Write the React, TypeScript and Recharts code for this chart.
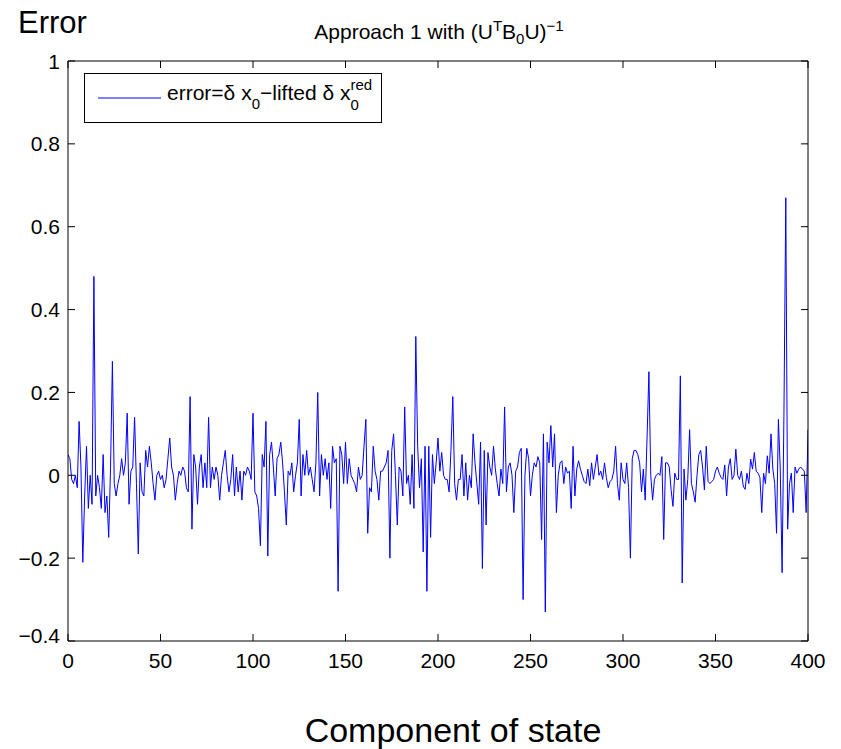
import { LineChart, Line, XAxis, YAxis, Legend } from "recharts";

// error = δx0 − lifted δx0^red, one value per state component (0..400)
const errorValues = [
  0.05, 0.04, -0.01, -0.02, 0.0, -0.03, 0.13, 0.02, -0.21, -0.05,
  0.07, -0.08, 0.0, -0.07, 0.48, -0.05, 0.0, -0.03, -0.08, 0.05,
  -0.09, -0.05, -0.15, 0.02, 0.275, -0.02, -0.05, -0.02, 0.0, 0.04,
  0.0, 0.03, 0.15, -0.07, 0.01, 0.02, 0.14, -0.02, -0.19, 0.03,
  -0.04, -0.05, 0.06, 0.02, 0.07, 0.03, -0.02, -0.06, 0.0, 0.01,
  -0.01, 0.0, -0.03, -0.01, 0.04, 0.09, 0.02, 0.0, -0.06, -0.02,
  0.01, 0.0, 0.02, 0.01, -0.03, -0.04, 0.19, -0.13, 0.05, 0.02,
  -0.07, 0.02, 0.05, -0.03, 0.03, -0.03, 0.14, -0.03, 0.02, -0.01,
  0.02, 0.0, -0.06, 0.0, 0.03, 0.06, 0.0, -0.04, -0.01, 0.05,
  -0.05, 0.02, -0.04, 0.01, -0.06, 0.01, 0.0, 0.02, 0.01, -0.01,
  0.15, -0.04, -0.05, -0.08, -0.17, 0.05, 0.02, 0.13, -0.195, 0.05,
  0.08, 0.02, -0.05, 0.04, 0.05, 0.08, 0.03, -0.04, -0.12, 0.01,
  0.0, 0.03, -0.04, 0.0, 0.03, 0.135, -0.05, 0.05, 0.0, 0.06,
  0.0, 0.02, -0.01, -0.04, 0.03, 0.2, -0.05, 0.05, 0.0, 0.04,
  -0.01, 0.03, -0.08, 0.07, 0.03, 0.04, -0.28, 0.07, 0.05, -0.02,
  0.08, -0.02, 0.04, 0.0, -0.01, -0.02, -0.04, 0.02, -0.01, 0.0,
  0.07, 0.135, -0.14, -0.03, -0.04, 0.07, 0.01, -0.01, -0.06, 0.01,
  0.01, 0.02, 0.03, 0.06, -0.2, 0.06, 0.1, 0.0, -0.12, 0.02,
  0.01, -0.05, 0.165, -0.02, 0.0, -0.07, 0.05, -0.08, 0.335, 0.07,
  -0.03, 0.04, -0.185, 0.07, -0.28, 0.07, -0.15, 0.05, -0.02, 0.03,
  0.09, 0.01, 0.055, 0.0, -0.01, -0.01, -0.04, 0.06, 0.19, -0.02,
  -0.06, -0.01, -0.01, 0.05, -0.05, 0.03, -0.06, 0.0, -0.03, 0.1,
  0.03, -0.02, -0.07, 0.08, -0.225, 0.06, -0.12, 0.055, 0.02, 0.0,
  0.07, 0.015, -0.02, -0.05, 0.015, -0.02, 0.165, -0.04, 0.02, 0.03,
  0.0, -0.09, 0.01, 0.02, 0.055, 0.065, -0.3, 0.0, 0.065, 0.04,
  -0.05, 0.0, 0.03, 0.02, 0.045, 0.03, -0.155, 0.1, -0.33, 0.08,
  0.03, 0.12, 0.02, 0.1, -0.09, 0.0, 0.03, 0.035, -0.02, 0.02,
  0.005, 0.01, -0.08, 0.07, -0.05, 0.015, 0.035, 0.015, 0.0, -0.015,
  -0.02, 0.015, -0.025, 0.03, -0.01, 0.02, 0.05, 0.0, 0.01, -0.01,
  0.03, -0.005, -0.03, -0.015, -0.01, 0.01, 0.07, -0.02, -0.06, 0.03,
  -0.01, -0.02, 0.03, -0.03, -0.2, 0.04, 0.06, 0.06, 0.05, 0.03,
  -0.04, 0.015, -0.06, 0.09, 0.25, 0.0, -0.06, -0.01, 0.0, 0.005,
  0.0, 0.045, -0.155, 0.03, 0.03, 0.02, -0.035, -0.075, 0.005, -0.01,
  -0.01, 0.24, -0.26, 0.015, -0.06, -0.01, 0.11, -0.02, -0.04, -0.065,
  0.0, 0.05, 0.06, 0.02, -0.035, 0.07, -0.015, -0.02, -0.015, -0.01,
  0.01, 0.02, 0.005, -0.005, -0.01, 0.025, -0.05, 0.02, 0.04, -0.01,
  0.0, 0.063, 0.0, -0.01, 0.01, -0.026, -0.034, 0.005, -0.02, 0.039,
  0.015, 0.055, 0.01, 0.005, -0.005, -0.09, 0.005, -0.02, 0.047, 0.005,
  0.1, 0.015, -0.02, -0.14, 0.135, 0.015, -0.235, 0.15, 0.67, -0.13,
  -0.02, 0.005, -0.09, 0.02, 0.005, 0.015, 0.02, 0.015, 0.01, -0.09,
  0.11,
];

const xTicks = [0, 50, 100, 150, 200, 250, 300, 350, 400];
const yTicks = [-0.4, -0.2, 0, 0.2, 0.4, 0.6, 0.8, 1];

const data = errorValues.map((error, component) => ({ component, error }));

const W = 841;
const H = 749;
const FONT = '"Liberation Sans", Arial, Helvetica, sans-serif';
const TICK_LEN = 7;
const TICK_FONT = 21;

const fmtY = (v: number) => (v < 0 ? "\u2212" + String(Math.abs(v)) : String(v));

// matlab style: ticks point inward, labels outside
const BottomTick = ({ x, y, payload }: any) => (
  <g>
    <line x1={x} y1={y} x2={x} y2={y - TICK_LEN} stroke="#000" />
    <text x={x} y={y + 27} textAnchor="middle" fontSize={TICK_FONT} fontFamily={FONT} fill="#000">
      {payload.value}
    </text>
  </g>
);

const LeftTick = ({ x, y, payload }: any) => (
  <g>
    <line x1={x} y1={y} x2={x + TICK_LEN} y2={y} stroke="#000" />
    <text
      x={x - 8}
      y={payload.value === -0.4 ? y + 2 : y + 7.5}
      textAnchor="end"
      fontSize={TICK_FONT}
      fontFamily={FONT}
      fill="#000"
    >
      {fmtY(payload.value)}
    </text>
  </g>
);

const TopTick = ({ x, y }: any) => <line x1={x} y1={y} x2={x} y2={y + TICK_LEN} stroke="#000" />;
const RightTick = ({ x, y }: any) => <line x1={x} y1={y} x2={x - TICK_LEN} y2={y} stroke="#000" />;

const LegendBox = () => (
  <div
    style={{
      width: 296,
      height: 48,
      border: "1px solid #000",
      background: "#fff",
      position: "relative",
      fontFamily: FONT,
      fontSize: 21,
      color: "#000",
    }}
  >
    <svg width={66} height={4} style={{ position: "absolute", left: 13, top: 22 }}>
      <line x1={0} y1={2} x2={63} y2={2} stroke="#0000ff" strokeWidth={1} />
    </svg>
    <div style={{ position: "absolute", left: 82, top: 3, whiteSpace: "nowrap", lineHeight: 1 }}>
      error=δ x<span style={{ fontSize: 15, verticalAlign: -9 }}>0</span>−lifted δ x
      <span
        style={{
          display: "inline-flex",
          flexDirection: "column",
          fontSize: 15,
          lineHeight: "15px",
          verticalAlign: 10,
        }}
      >
        <span>red</span>
        <span style={{ marginTop: 5 }}>0</span>
      </span>
    </div>
  </div>
);

export default function App() {
  return (
    <div style={{ position: "absolute", left: 0, top: 0, width: W, height: H, background: "#fff", fontFamily: FONT }}>
      <div style={{ position: "absolute", left: 18, top: 7, fontSize: 31, lineHeight: 1, color: "#000" }}>Error</div>
      <div
        style={{
          position: "absolute",
          left: 0,
          width: 878,
          top: 18,
          textAlign: "center",
          fontSize: 21,
          lineHeight: 1,
          color: "#000",
          whiteSpace: "nowrap",
        }}
      >
        Approach 1 with (U<sup style={{ fontSize: 15 }}>T</sup>B<sub style={{ fontSize: 15 }}>0</sub>U)
        <sup style={{ fontSize: 15 }}>−1</sup>
      </div>
      <div
        style={{
          position: "absolute",
          left: 0,
          width: 906,
          top: 713,
          textAlign: "center",
          fontSize: 34,
          lineHeight: 1,
          color: "#000",
        }}
      >
        Component of state
      </div>

      <LineChart width={W} height={H} data={data} margin={{ top: 60, left: 67, right: 32, bottom: 107 }}>
        <XAxis
          dataKey="component"
          type="number"
          domain={[0, 400]}
          ticks={xTicks}
          height={1}
          tickSize={0}
          tickMargin={0}
          tickLine={false}
          tick={<BottomTick />}
          axisLine={{ stroke: "#000" }}
          allowDataOverflow
        />
        <XAxis
          xAxisId="top"
          orientation="top"
          dataKey="component"
          type="number"
          domain={[0, 400]}
          ticks={xTicks}
          height={1}
          tickSize={0}
          tickMargin={0}
          tickLine={false}
          tick={<TopTick />}
          axisLine={{ stroke: "#000" }}
          allowDataOverflow
        />
        <YAxis
          type="number"
          domain={[-0.4, 1]}
          ticks={yTicks}
          width={1}
          tickSize={0}
          tickMargin={0}
          tickLine={false}
          tick={<LeftTick />}
          axisLine={{ stroke: "#000" }}
          allowDataOverflow
        />
        <YAxis
          yAxisId="right"
          orientation="right"
          type="number"
          domain={[-0.4, 1]}
          ticks={yTicks}
          width={1}
          tickSize={0}
          tickMargin={0}
          tickLine={false}
          tick={<RightTick />}
          axisLine={{ stroke: "#000" }}
          allowDataOverflow
        />
        <Legend
          layout="vertical"
          align="center"
          verticalAlign="middle"
          content={<LegendBox />}
          wrapperStyle={{ left: 84, top: 73, width: 298, height: 50 }}
        />
        <Line
          dataKey="error"
          stroke="#0000ff"
          strokeWidth={1}
          dot={false}
          type="linear"
          isAnimationActive={false}
        />
      </LineChart>
    </div>
  );
}
